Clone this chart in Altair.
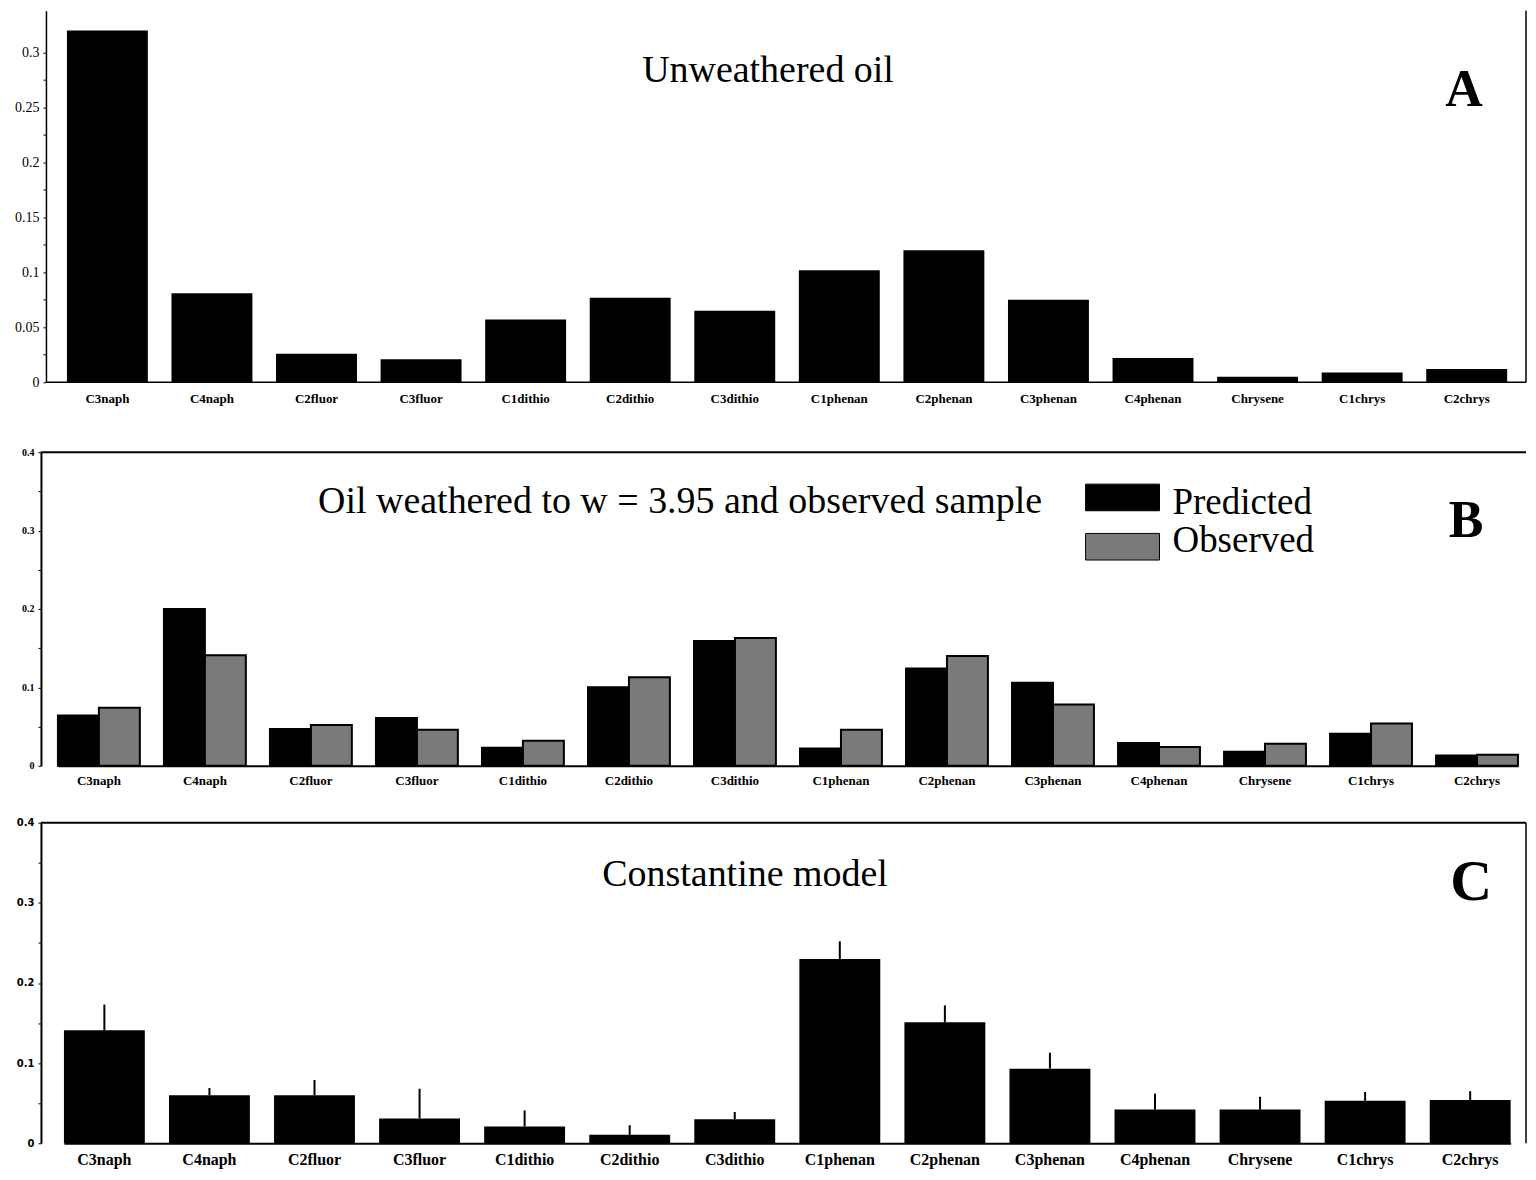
import json
import altair as alt
import pandas as pd

# ---------------- data ----------------
compounds = ["C3naph", "C4naph", "C2fluor", "C3fluor", "C1dithio", "C2dithio", "C3dithio",
             "C1phenan", "C2phenan", "C3phenan", "C4phenan", "Chrysene", "C1chrys", "C2chrys"]

unweathered = [0.320, 0.081, 0.026, 0.021, 0.057, 0.077, 0.065,
               0.102, 0.120, 0.075, 0.022, 0.005, 0.009, 0.012]

predicted = [0.064, 0.200, 0.047, 0.061, 0.023, 0.100, 0.159,
             0.022, 0.124, 0.106, 0.029, 0.018, 0.041, 0.013]
observed = [0.074, 0.141, 0.052, 0.046, 0.032, 0.113, 0.163,
            0.046, 0.140, 0.078, 0.024, 0.028, 0.054, 0.014]

constantine = [0.141, 0.060, 0.060, 0.031, 0.021, 0.0105, 0.030,
               0.230, 0.151, 0.093, 0.042, 0.042, 0.053, 0.054]
constantine_err = [0.032, 0.009, 0.019, 0.037, 0.020, 0.012, 0.009,
                   0.022, 0.021, 0.020, 0.020, 0.016, 0.011, 0.011]

series_names = ["Predicted", "Observed"]
series_colors = ["#000000", "#7a7a7a"]

titleA = "Unweathered oil"
titleB = "Oil weathered to w = 3.95 and observed sample"
titleC = "Constantine model"
panel_letters = ["A", "B", "C"]

ticksA = [0, 0.05, 0.1, 0.15, 0.2, 0.25, 0.3]
minorA = [0.025, 0.075, 0.125, 0.175, 0.225, 0.275]
ticksBC = [0, 0.1, 0.2, 0.3, 0.4]
minorBC = [0.05, 0.15, 0.25, 0.35]

SERIF = "Liberation Serif"
SANS = "DejaVu Sans"
N = len(compounds)

# ---------------- helpers ----------------
def text_mark(text, x, y, size, weight="normal", align="center", font=SERIF):
    return alt.Chart(pd.DataFrame({"t": [text]})).mark_text(
        font=font, fontSize=size, fontWeight=weight, align=align,
        baseline="middle", color="black"
    ).encode(x=alt.value(x), y=alt.value(y), text="t:N")


def rule(x=None, x2=None, y=None, y2=None, width=2, opacity=1):
    enc = {}
    if x is not None:
        enc["x"] = alt.value(x)
    if x2 is not None:
        enc["x2"] = alt.value(x2)
    if y is not None:
        enc["y"] = alt.value(y)
    if y2 is not None:
        enc["y2"] = alt.value(y2)
    return alt.Chart(pd.DataFrame({"d": [0]})).mark_rule(
        color="black", strokeWidth=width, strokeOpacity=opacity
    ).encode(**enc)


def label_expr(majors, fmt):
    return f"indexof({json.dumps(majors)}, datum.value) >= 0 ? format(datum.value, '{fmt}') : ''"


def band_range(first, step, inner):
    return [first, first + step * (N - inner)]


# ---------------- panel A ----------------
WA, HA = 1487, 372
dfA = pd.DataFrame({"compound": compounds, "value": unweathered})

xA = alt.X("compound:N", sort=compounds,
           scale=alt.Scale(range=band_range(26, 104.7, 0.226), paddingInner=0.226, paddingOuter=0),
           axis=alt.Axis(title=None, labelAngle=0, ticks=False, domain=False,
                         labelPadding=10, labelFont=SERIF, labelFontSize=13,
                         labelFontWeight="bold", labelColor="black", labelOverlap=False))
yA = alt.Y("value:Q", scale=alt.Scale(domain=[0, 0.338], nice=False),
           axis=alt.Axis(title=None, values=ticksA + minorA,
                         labelExpr=label_expr(ticksA, ".2~f"),
                         offset=-5, grid=False, tickSize=3, labelPadding=4,
                         labelFont=SERIF, labelFontSize=14, labelColor="black",
                         domainColor="black", domainWidth=1.5, tickColor="black"))

barsA = alt.Chart(dfA).mark_bar(color="black").encode(x=xA, y=yA)

panelA = alt.layer(
    barsA,
    rule(x=5, x2=WA, y=HA, width=1.5),
    rule(x=WA, y=0, y2=HA, width=1.5),
    text_mark(titleA, 728, 60, 38),
    text_mark(panel_letters[0], 1425, 79, 52, weight="bold"),
).properties(width=WA, height=HA)

# ---------------- panel B ----------------
WB, HB = 1487, 314
rows = []
for c, p, o in zip(compounds, predicted, observed):
    rows.append({"compound": c, "series": series_names[0], "value": p})
    rows.append({"compound": c, "series": series_names[1], "value": o})
dfB = pd.DataFrame(rows)

colorB = alt.Color("series:N", scale=alt.Scale(domain=series_names, range=series_colors), legend=None)

xB = alt.X("compound:N", sort=compounds,
           scale=alt.Scale(range=band_range(17, 106.15, 0.2275), paddingInner=0.2275, paddingOuter=0),
           axis=alt.Axis(title=None, labelAngle=0, ticks=False,
                         domainColor="black", domainWidth=2,
                         labelPadding=9, labelFont=SERIF, labelFontSize=13,
                         labelFontWeight="bold", labelColor="black", labelOverlap=False))
yB = alt.Y("value:Q", scale=alt.Scale(domain=[0, 0.4], nice=False),
           axis=alt.Axis(title=None, values=ticksBC + minorBC,
                         labelExpr=label_expr(ticksBC, ".1~f"),
                         grid=False, tickSize=3, labelPadding=4,
                         labelFont=SERIF, labelFontSize=10, labelFontWeight="bold",
                         labelColor="black", domainColor="black", domainWidth=2,
                         tickColor="black"))

barsB = alt.Chart(dfB).mark_bar(stroke="black", strokeWidth=2).encode(
    x=xB, y=yB, color=colorB,
    xOffset=alt.XOffset("series:N", sort=series_names,
                        scale=alt.Scale(paddingInner=0, paddingOuter=0)),
)

legend_df = pd.DataFrame({"series": series_names})
leg_y = alt.Y("series:N", sort=series_names,
              scale=alt.Scale(range=[32, 108], paddingInner=0.46, paddingOuter=0),
              axis=None)
leg_rect = alt.Chart(legend_df).mark_rect(stroke="black", strokeWidth=1).encode(
    x=alt.value(1046), x2=alt.value(1120), y=leg_y, color=colorB)
leg_text = alt.Chart(legend_df).mark_text(
    font=SERIF, fontSize=37, align="left", baseline="middle", color="black"
).encode(x=alt.value(1133), y=leg_y, text="series:N")

panelB = alt.layer(
    barsB,
    leg_rect,
    leg_text,
    rule(x=0, x2=WB, y=0, width=2),
    rule(x=0, y=-17, y2=0, width=1, opacity=0),
    text_mark(titleB, 640, 50, 38),
    text_mark(panel_letters[1], 1427, 69, 52, weight="bold"),
).resolve_scale(y="independent").properties(width=WB, height=HB)

# ---------------- panel C ----------------
WC, HC = 1487, 321
dfC = pd.DataFrame({"compound": compounds, "value": constantine, "err": constantine_err})

xC = alt.X("compound:N", sort=compounds,
           scale=alt.Scale(range=band_range(23, 105.2, 0.23), paddingInner=0.23, paddingOuter=0),
           axis=alt.Axis(title=None, labelAngle=0, ticks=False,
                         domainColor="black", domainWidth=2,
                         labelPadding=8, labelFont=SERIF, labelFontSize=16,
                         labelFontWeight="bold", labelColor="black", labelOverlap=False))
yC = alt.Y("value:Q", scale=alt.Scale(domain=[0, 0.4], nice=False),
           axis=alt.Axis(title=None, values=ticksBC + minorBC,
                         labelExpr=label_expr(ticksBC, ".1~f"),
                         grid=False, tickSize=3, labelPadding=4,
                         labelFont=SANS, labelFontSize=10, labelFontWeight="bold",
                         labelColor="black", domainColor="black", domainWidth=2,
                         tickColor="black"))

baseC = alt.Chart(dfC).transform_calculate(top="datum.value + datum.err")
barsC = baseC.mark_bar(color="black").encode(x=xC, y=yC)
errC = baseC.mark_rule(color="black", strokeWidth=2).encode(
    x=alt.X("compound:N", sort=compounds), y="value:Q", y2="top:Q")

panelC = alt.layer(
    barsC,
    errC,
    rule(x=0, x2=WC, y=0, width=2),
    rule(x=WC, y=0, y2=HC, width=1.5),
    text_mark(titleC, 705, 52, 38),
    text_mark(panel_letters[2], 1432, 60, 58, weight="bold"),
).properties(width=WC, height=HC)

chart = alt.vconcat(panelA, panelB, panelC, spacing=28).properties(
    padding={"left": 6, "top": 0, "right": 0, "bottom": 0},
    background="white",
).configure_view(stroke="transparent")

chart.save("out.html", embed_options={"renderer": "svg", "actions": False})
